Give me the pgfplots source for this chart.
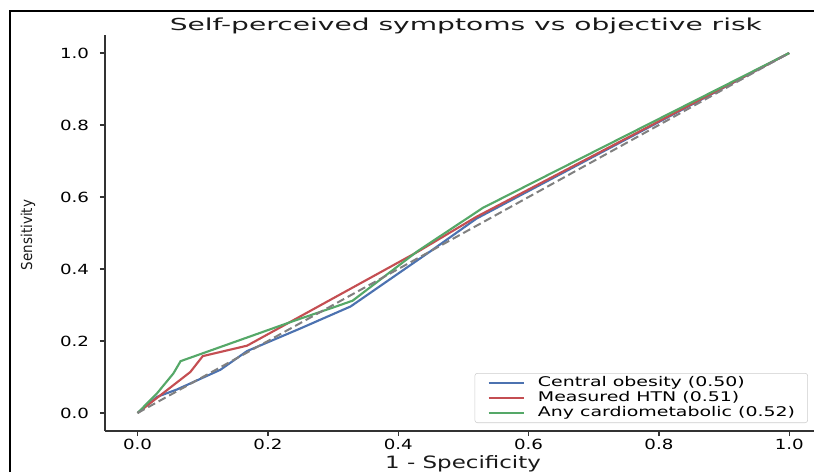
\documentclass[border=0pt]{standalone}
\usepackage{fontspec}
\setmainfont{DejaVu Sans}
\newfontfamily\tickfont{DejaVu Sans}[FakeStretch=1.3]
\newfontfamily\titlefont{DejaVu Sans}[FakeStretch=1.7]
\newfontfamily\xlabfont{DejaVu Sans}[FakeStretch=1.35]
\newfontfamily\legfont{DejaVu Sans}[FakeStretch=1.42]
\newfontfamily\ylabfont{DejaVu Sans}[FakeStretch=0.9]
\usepackage{pgfplots}
\pgfplotsset{compat=1.18}

\definecolor{cblue}{HTML}{4C72B0}
\definecolor{cred}{HTML}{C44E52}
\definecolor{cgreen}{HTML}{55A868}
\definecolor{spine}{HTML}{333333}

\begin{document}
\begin{tikzpicture}
% 1 px of the reference = 0.75pt
\path[use as bounding box] (0,0) rectangle (610.5pt,354pt);
\draw[black, line width=1.5pt] (7.5pt,0) -- (7.5pt,345.75pt) -- (610.5pt,345.75pt);
\begin{axis}[
    at={(78.75pt,30.75pt)}, anchor=south west,
    width=531.75pt, height=297pt, scale only axis,
    xmin=-0.05, xmax=1.038, ymin=-0.05, ymax=1.05,
    axis x line*=bottom, axis y line*=left,
    axis line style={-, line width=1.1pt, spine},
    xtick={0,0.2,0.4,0.6,0.8,1.0},
    ytick={0,0.2,0.4,0.6,0.8,1.0},
    tick align=outside, major tick length=3.75pt,
    tick style={line width=1.1pt, spine},
    /pgf/number format/assume math mode=true,
    /pgf/number format/.cd, fixed, fixed zerofill, precision=1, /pgfplots/.cd,
    ticklabel style={font=\tickfont\fontsize{10.5}{12}\selectfont, text=black},
    yticklabel style={anchor=east, inner sep=0pt, xshift=-8pt},
    xticklabel style={anchor=north, inner sep=0pt, yshift=-2.5pt},
    title={Self-perceived symptoms vs objective risk},
    title style={at={(axis description cs:0.509,1)}, anchor=base, yshift=-2.5pt,
        font=\titlefont\fontsize{12.4}{14}\selectfont, text=black!90},
    xlabel={1 - Specificity},
    xlabel style={at={(axis description cs:0.505,0)}, anchor=base, yshift=-27.75pt,
        font=\xlabfont\fontsize{12.75}{14}\selectfont, text=black!90},
    ylabel={Sensitivity},
    ylabel style={at={(axis description cs:-0.1086,0.495)}, anchor=center, rotate=0,
        font=\ylabfont\fontsize{11.25}{13}\selectfont, text=black!90},
    legend cell align=left,
    legend image code/.code={\draw[#1] (0pt,0pt) -- (26.25pt,0pt);},
    legend style={at={(axis description cs:0.9915,0.0202)}, anchor=south east,
        draw=black!20, rounded corners=2pt, fill=white, fill opacity=0.8, text opacity=1,
        font=\legfont\fontsize{10}{12}\selectfont,
        inner xsep=9.5pt, inner ysep=2.5pt, row sep=1.5pt, column sep=10pt,
        nodes={inner sep=0pt, text height=7.5pt, text depth=2.2pt}},
]
\addplot[cblue, line width=1.6pt] coordinates {
    (0,0) (0.03,0.045) (0.06,0.065) (0.127,0.12) (0.168,0.172)
    (0.25,0.235) (0.327,0.296) (0.45,0.45) (0.52,0.54) (1,1)};
\addlegendentry{Central obesity (0.50)}
\addplot[cred, line width=1.6pt] coordinates {
    (0,0) (0.081,0.114) (0.1,0.158) (0.168,0.187) (0.43,0.448)
    (0.52,0.545) (1,1)};
\addlegendentry{Measured HTN (0.51)}
\addplot[cgreen, line width=1.6pt] coordinates {
    (0,0) (0.03,0.055) (0.055,0.11) (0.066,0.144) (0.24,0.256)
    (0.30,0.293) (0.33,0.312) (0.43,0.45) (0.53,0.57) (1,1)};
\addlegendentry{Any cardiometabolic (0.52)}
\addplot[gray, line width=1.5pt, dash pattern=on 6pt off 3pt, forget plot] coordinates {
    (0,0) (1,1)};
\end{axis}
\end{tikzpicture}
\end{document}
